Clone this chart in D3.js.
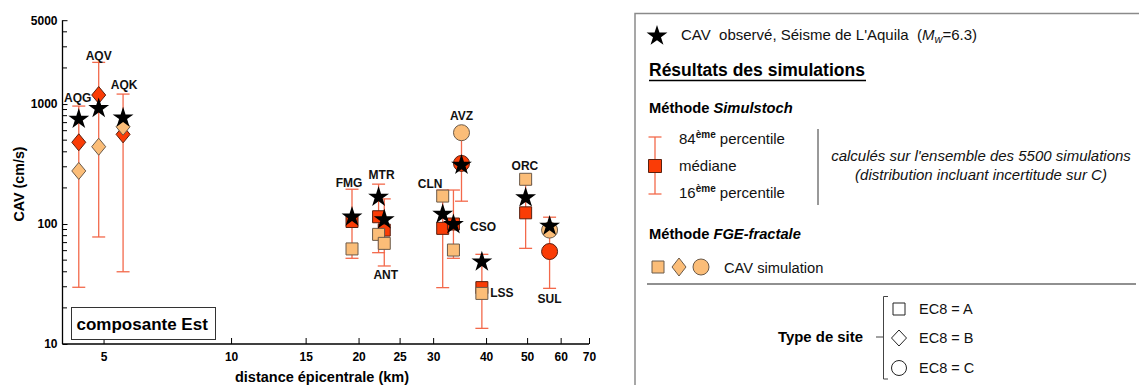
<!DOCTYPE html>
<html><head><meta charset="utf-8">
<script src="https://cdn.jsdelivr.net/npm/d3@7"></script>
<style>body{margin:0;background:#fff;} svg{display:block;font-family:Arial,"Liberation Sans",sans-serif;} text{white-space:pre;}</style>
</head><body>
<svg id="c" width="1139" height="385"></svg>
<script>
// ---- data ----
const stations = ["AQG","AQV","AQK","FMG","MTR","ANT","CLN","CSO","AVZ","LSS","ORC","SUL"];
const distance = [4.37,4.87,5.56,19.3,22.3,23.0,31.6,33.5,35.0,39.1,49.6,56.5];
const observed = [764,938,783,117,171,111,123,101,316,49.4,169,98];
const median   = [480,1189,559,105,115,89,92,100,320,29.5,124,59];
const p84      = [962,2225,1211,195,215,162,192,192,560,55.9,215,114];
const p16      = [29.7,78,40,51.8,57.7,44.7,29.5,51.8,155,13.5,62.7,29.1];
const fge      = [277,441,647,62,82,69,171,60.7,577,26.4,236,89];
const siteClass= ["B","B","B","A","A","A","A","A","C","A","A","C"];
const xTicks = [5,10,15,20,25,30,40,50,60,70];
const yTicks = [10,100,1000,5000];

// ---- layout (label anchor + pixel offsets) ----
const labelAnchor = {AQG:["p84",-1,-8],AQV:["p84",0,-7],AQK:["p84",1,-9],FMG:["p84",-3,-7],MTR:["p84",3,-9],
  ANT:["p16",1.5,9],CLN:["fge",-12.5,-12.7],CSO:["obs",29.6,3.4],AVZ:["fge",0,-17],LSS:["fge",20,-1],
  ORC:["fge",-0.7,-13.3],SUL:["p16",0,10]};
const RED="#fa3c06", ORG="#fbbd78", BAR="#f3694b";

const svg=d3.select("#c");
const x=d3.scaleLog().domain([4,70]).range([62.5,589]);
const y=d3.scaleLog().domain([10,5000]).range([344,20.2]);

function shapePath(cls, a, b){
  if(cls==="A"){return `M${-a},${-a}H${a}V${a}H${-a}Z`;}
  if(cls==="B"){return `M0,${-b}L${a},0L0,${b}L${-a},0Z`;}
  return `M${a},0A${a},${a} 0 1,1 ${-a},0A${a},${a} 0 1,1 ${a},0Z`;
}
function mk(cls){ return cls==="A"?shapePath("A",6):cls==="B"?shapePath("B",7,8.5):shapePath("C",8); }
const star=d3.symbol(d3.symbolStar,135)();

const g=svg.append("g");
const yAxis=d3.axisLeft(y).tickValues(yTicks).tickFormat(d3.format("d")).tickSize(-5).tickPadding(5);
const ya=g.append("g").attr("transform","translate(62.5,0)").call(yAxis);
const minor=[];[10,100,1000].forEach(b=>{for(let k=2;k<=9;k++){const v=b*k;if(v<=5000&&!yTicks.includes(v))minor.push(v);}});
g.append("g").selectAll("line").data(minor).join("line")
  .attr("x1",62.5).attr("x2",67).attr("y1",d=>y(d)).attr("y2",d=>y(d)).attr("stroke","#000").attr("stroke-width",1);
const xAxis=d3.axisBottom(x).tickValues(xTicks).tickFormat(d3.format("d")).tickSize(-6).tickPadding(8);
const xa=g.append("g").attr("transform","translate(0,344)").call(xAxis);
[ya,xa].forEach(a=>{a.select(".domain").attr("stroke","#000").attr("stroke-width",1.3);
  a.selectAll(".tick text").attr("font-size",12).attr("font-weight","bold").attr("fill","#000")
   .attr("font-family","Arial, Liberation Sans, sans-serif");
  a.selectAll(".tick line").attr("stroke","#000");});
ya.select(".domain").attr("d","M0,20.2V344");
xa.select(".domain").attr("d","M62.5,0H589");

g.append("text").attr("transform","translate(24,184) rotate(-90)").attr("text-anchor","middle")
  .attr("font-size",14.3).attr("font-weight","bold").text("CAV (cm/s)");
g.append("text").attr("x",322).attr("y",382).attr("text-anchor","middle")
  .attr("font-size",14.5).attr("font-weight","bold").text("distance épicentrale (km)");

g.append("rect").attr("x",71.5).attr("y",307.5).attr("width",144).attr("height",32).attr("fill","#fff").attr("stroke","#333").attr("stroke-width",1);
g.append("text").attr("x",76.5).attr("y",329.5).attr("font-size",17).attr("font-weight","bold").text("composante Est");

const idx=d3.range(stations.length);
const eb=g.append("g").attr("stroke",BAR).attr("stroke-width",1.3);
idx.forEach(i=>{
  const cx=x(distance[i]);
  eb.append("line").attr("x1",cx).attr("x2",cx).attr("y1",y(p84[i])).attr("y2",y(p16[i]));
  eb.append("line").attr("x1",cx-6.5).attr("x2",cx+6.5).attr("y1",y(p84[i])).attr("y2",y(p84[i]));
  eb.append("line").attr("x1",cx-6.5).attr("x2",cx+6.5).attr("y1",y(p16[i])).attr("y2",y(p16[i]));
});
g.append("g").selectAll("path").data(idx).join("path")
  .attr("d",i=>mk(siteClass[i]))
  .attr("transform",i=>`translate(${x(distance[i])},${y(median[i])})`)
  .attr("fill",RED).attr("stroke","#5a2010").attr("stroke-width",1);
g.append("g").selectAll("path").data(idx).join("path")
  .attr("d",i=>mk(siteClass[i]))
  .attr("transform",i=>`translate(${x(distance[i])},${y(fge[i])})`)
  .attr("fill",ORG).attr("stroke","#6a5a4a").attr("stroke-width",1);
g.append("g").selectAll("path").data(idx).join("path")
  .attr("d",star).attr("transform",i=>`translate(${x(distance[i])},${y(observed[i])+1})`).attr("fill","#000");
const anchorVal={p84:p84,p16:p16,fge:fge,obs:observed};
g.append("g").selectAll("text").data(idx).join("text")
  .attr("x",i=>x(distance[i])+labelAnchor[stations[i]][1])
  .attr("y",i=>{const a=labelAnchor[stations[i]];return y(anchorVal[a[0]][i])+a[2]+4.3;})
  .attr("text-anchor","middle").attr("font-size",12).attr("font-weight","bold").attr("fill","#111")
  .text(i=>stations[i]);

// ---- legend ----
const L=svg.append("g");
L.append("rect").attr("x",635).attr("y",13.5).attr("width",600).attr("height",400).attr("fill","none").attr("stroke","#8a8a8a").attr("stroke-width",1.5);
L.append("path").attr("d",star).attr("transform","translate(657,36)").attr("fill","#000");
const t1=L.append("text").attr("x",681).attr("y",40).attr("font-size",15).attr("fill","#111");
t1.append("tspan").text("CAV  observé, Séisme de L'Aquila  (");
t1.append("tspan").attr("font-style","italic").text("M");
t1.append("tspan").attr("font-style","italic").attr("font-size",11).attr("dy",3).text("w");
t1.append("tspan").attr("dy",-3).text("=6.3)");
L.append("text").attr("x",649).attr("y",76).attr("font-size",17.5).attr("font-weight","bold").text("Résultats des simulations");
L.append("line").attr("x1",649).attr("x2",866).attr("y1",80.5).attr("y2",80.5).attr("stroke","#000").attr("stroke-width",1.3);
const t2=L.append("text").attr("x",649).attr("y",113).attr("font-size",14.7).attr("font-weight","bold");
t2.append("tspan").text("Méthode ");t2.append("tspan").attr("font-style","italic").text("Simulstoch");
L.append("line").attr("x1",655).attr("x2",655).attr("y1",137).attr("y2",194).attr("stroke",BAR).attr("stroke-width",1.3);
L.append("line").attr("x1",648.5).attr("x2",661.5).attr("y1",137).attr("y2",137).attr("stroke",BAR).attr("stroke-width",1.3);
L.append("line").attr("x1",648.5).attr("x2",661.5).attr("y1",194).attr("y2",194).attr("stroke",BAR).attr("stroke-width",1.3);
L.append("path").attr("d",shapePath("A",6.5)).attr("transform","translate(655,166)").attr("fill",RED).attr("stroke","#5a2010");
function pct(yv,num){const t=L.append("text").attr("x",679).attr("y",yv).attr("font-size",15).attr("fill","#111");
  t.append("tspan").text(num);t.append("tspan").attr("font-size",10).attr("font-weight","bold").attr("dy",-6).text("ème");
  t.append("tspan").attr("dy",6).text(" percentile");}
pct(144,"84");pct(198,"16");
L.append("text").attr("x",679).attr("y",171).attr("font-size",15).attr("fill","#111").text("médiane");
L.append("line").attr("x1",818).attr("x2",818).attr("y1",129).attr("y2",205).attr("stroke","#555").attr("stroke-width",1.2);
L.append("text").attr("x",981).attr("y",161).attr("text-anchor","middle").attr("font-size",15).attr("font-style","italic").attr("fill","#111").text("calculés sur l'ensemble des 5500 simulations");
L.append("text").attr("x",981).attr("y",179.5).attr("text-anchor","middle").attr("font-size",15).attr("font-style","italic").attr("fill","#111").text("(distribution incluant incertitude sur C)");
const t3=L.append("text").attr("x",649).attr("y",239).attr("font-size",14.7).attr("font-weight","bold");
t3.append("tspan").text("Méthode ");t3.append("tspan").attr("font-style","italic").text("FGE-fractale");
L.append("path").attr("d",shapePath("A",6)).attr("transform","translate(658,267)").attr("fill",ORG).attr("stroke","#6a5a4a");
L.append("path").attr("d",shapePath("B",7,9)).attr("transform","translate(679,267)").attr("fill",ORG).attr("stroke","#6a5a4a");
L.append("path").attr("d",shapePath("C",8)).attr("transform","translate(701,267)").attr("fill",ORG).attr("stroke","#6a5a4a");
L.append("text").attr("x",724).attr("y",272.5).attr("font-size",14.7).attr("fill","#111").text("CAV simulation");
L.append("line").attr("x1",647).attr("x2",1136).attr("y1",284).attr("y2",284).attr("stroke","#222").attr("stroke-width",1.2);
L.append("text").attr("x",778).attr("y",342).attr("font-size",14.9).attr("font-weight","bold").text("Type de site");
L.append("path").attr("d","M888,296.5H883.5V379H888M883.5,337H876").attr("fill","none").attr("stroke","#444").attr("stroke-width",1);
L.append("path").attr("d",shapePath("A",6)).attr("transform","translate(899,309)").attr("fill","none").attr("stroke","#222");
L.append("path").attr("d",shapePath("B",7.5,8)).attr("transform","translate(899,338)").attr("fill","none").attr("stroke","#222");
L.append("path").attr("d",shapePath("C",7.5)).attr("transform","translate(899,368)").attr("fill","none").attr("stroke","#222");
[["EC8 = A",314],["EC8 = B",343],["EC8 = C",373]].forEach(([s,yy])=>L.append("text").attr("x",919).attr("y",yy).attr("font-size",14.5).attr("fill","#111").text(s));
</script>
</body></html>
